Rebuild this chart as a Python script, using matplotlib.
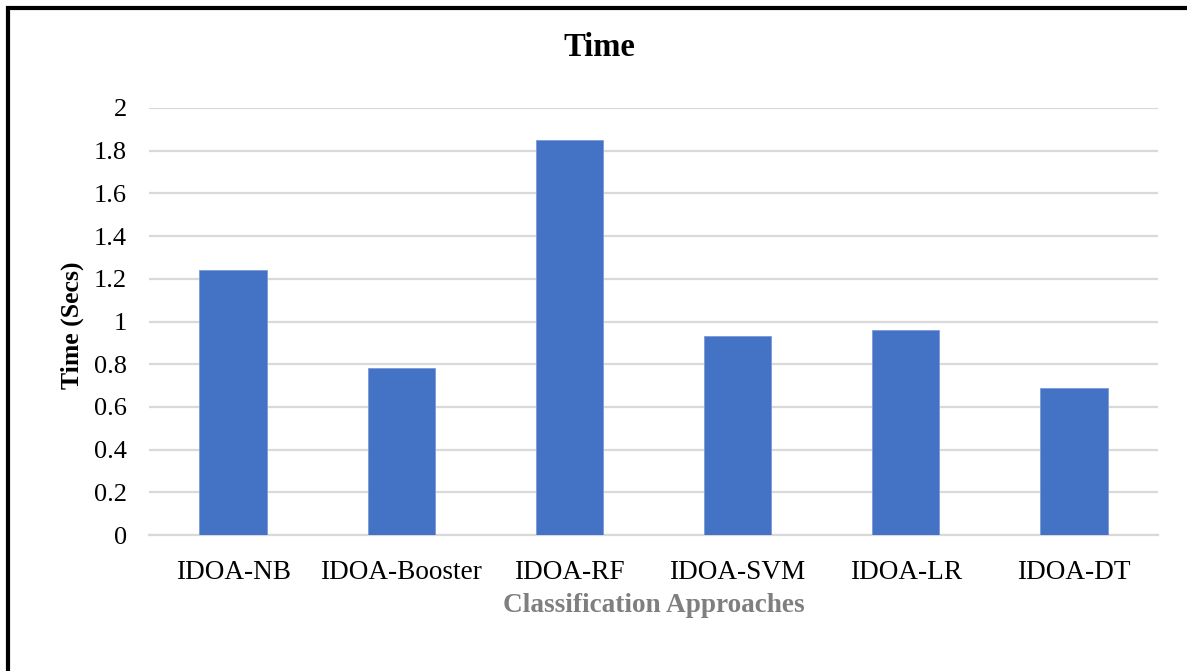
import matplotlib.pyplot as plt
from matplotlib.lines import Line2D
import numpy as np

approaches = ["IDOA-NB", "IDOA-Booster", "IDOA-RF", "IDOA-SVM", "IDOA-LR", "IDOA-DT"]
times = [1.24, 0.78, 1.85, 0.93, 0.96, 0.69]
y_ticks = [0, 0.2, 0.4, 0.6, 0.8, 1, 1.2, 1.4, 1.6, 1.8, 2]
y_tick_labels = ["0", "0.2", "0.4", "0.6", "0.8", "1", "1.2", "1.4", "1.6", "1.8", "2"]

plt.rcParams["font.family"] = ["Liberation Serif", "DejaVu Serif"]

W, H = 1187, 671
fig = plt.figure(figsize=(W / 100, H / 100), dpi=100)
ax = fig.add_axes([149 / W, 1 - 535 / H, (1158 - 149) / W, (535 - 108) / H])

x = np.arange(len(approaches))
ax.bar(x, times, width=0.4, color="#4472C4", edgecolor="#7a9ad6", linewidth=0.6, zorder=3)

ax.set_xlim(-0.5, len(approaches) - 0.5)
ax.set_ylim(0, 2)
ax.set_yticks(y_ticks)
ax.set_yticklabels(y_tick_labels)
ax.set_xticks(x)
ax.set_xticklabels(approaches)
ax.tick_params(axis="y", length=0, labelsize=19, colors="#000000", pad=16)
ax.tick_params(axis="x", length=0, labelsize=19.6, colors="#000000", pad=18)
ax.yaxis.grid(True, color="#d9d9d9", linewidth=1.6, zorder=0)
ax.set_axisbelow(True)
for side in ["top", "right", "left"]:
    ax.spines[side].set_visible(False)
ax.spines["bottom"].set_color("#d9d9d9")
ax.spines["bottom"].set_linewidth(1.6)

# titles and axis labels
fig.text(599 / W, 1 - 47 / H, "Time", ha="center", va="center", fontsize=23.5, fontweight="bold")
fig.text(654 / W, 1 - 606 / H, "Classification Approaches", ha="center", va="center",
         fontsize=19.6, fontweight="bold", color="#7f7f7f")
fig.text(72 / W, 1 - 325 / H, "Time (Secs)", ha="center", va="center", rotation=90,
         fontsize=18.5, fontweight="bold")

# frame along the top and left edges
fig.add_artist(Line2D([6 / W, 1], [1 - 8 / H, 1 - 8 / H], color="black", linewidth=3,
                      transform=fig.transFigure, solid_capstyle="butt"))
fig.add_artist(Line2D([8 / W, 8 / W], [0, 1 - 6 / H], color="black", linewidth=3,
                      transform=fig.transFigure, solid_capstyle="butt"))

fig.savefig("out.png", dpi=100)
